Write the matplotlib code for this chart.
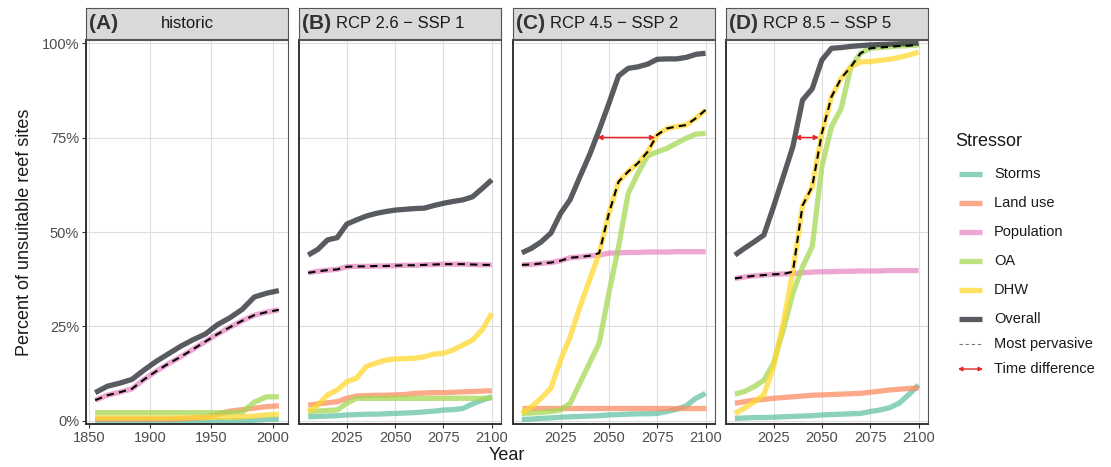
import numpy as np
import matplotlib
matplotlib.use("Agg")
import matplotlib.pyplot as plt
from matplotlib.lines import Line2D

plt.rcParams['font.family'] = ['Liberation Sans', 'DejaVu Sans']

# ---- data (percent of unsuitable reef sites) ----
years_hist = [1855, 1865, 1875, 1885, 1895, 1905, 1915, 1925, 1935, 1945, 1955, 1965, 1975, 1985, 1995, 2005]
years_fut = [2005, 2010, 2015, 2020, 2025, 2030, 2035, 2040, 2045, 2050,
             2055, 2060, 2065, 2070, 2075, 2080, 2085, 2090, 2095, 2100]

stressors = ["Storms", "Land use", "Population", "OA", "DHW", "Overall"]
colors = ["#66c2a5", "#fc8d62", "#e78ac3", "#a6d854", "#ffd92f", "#2e3338"]

hist_storms = [0, 0, 0, 0, 0, 0, 0, 0, 0, 0, 0, 0, 0.1, 0.2, 0.4, 0.5]
hist_land = [0.5, 0.5, 0.5, 0.5, 0.5, 0.5, 0.5, 0.6, 0.8, 1.0, 1.8, 2.6, 3.0, 3.4, 3.8, 4.0]
hist_pop = [5.5, 6.8, 7.6, 8.5, 11.0, 13.2, 15.2, 17.0, 19.0, 21.0, 23.0, 24.8, 26.5, 28.0, 28.8, 29.4]
hist_oa = [2.2, 2.2, 2.2, 2.2, 2.2, 2.2, 2.2, 2.2, 2.2, 2.2, 2.2, 2.2, 2.3, 5.0, 6.4, 6.4]
hist_dhw = [0.8, 0.8, 0.8, 0.8, 0.8, 0.8, 0.8, 0.8, 0.9, 0.9, 1.0, 1.0, 1.1, 1.3, 1.6, 1.8]
hist_overall = [7.5, 9.2, 10.0, 11.0, 13.5, 15.8, 17.8, 19.8, 21.5, 23.0, 25.5, 27.3, 29.5, 32.8, 33.8, 34.5]

rcp26_storms = [1.1, 1.2, 1.3, 1.4, 1.6, 1.7, 1.8, 1.8, 1.9, 2.0, 2.1, 2.2, 2.4, 2.6, 2.9, 3.0, 3.3, 4.5, 5.5, 6.4]
rcp26_land = [4.2, 4.5, 4.8, 5.1, 6.0, 6.6, 6.7, 6.8, 6.8, 6.9, 7.0, 7.3, 7.4, 7.5, 7.5, 7.6, 7.7, 7.8, 7.9, 8.0]
rcp26_pop = [39.2, 39.6, 39.9, 40.1, 40.8, 40.9, 40.9, 41.0, 41.0, 41.1, 41.2, 41.2, 41.3, 41.4, 41.5, 41.5, 41.5, 41.4, 41.3, 41.3]
rcp26_oa = [2.5, 2.6, 2.8, 2.9, 4.7, 6.0, 6.0, 6.0, 6.0, 6.0, 6.0, 6.0, 6.0, 6.0, 6.0, 6.0, 6.0, 6.0, 6.0, 6.1]
rcp26_dhw = [2.5, 4.2, 6.9, 8.2, 10.4, 11.3, 14.4, 15.3, 16.1, 16.4, 16.5, 16.6, 17.0, 17.7, 17.9, 18.8, 20.1, 21.4, 24.1, 28.5]
rcp26_overall = [43.9, 45.4, 47.9, 48.5, 52.1, 53.2, 54.2, 54.9, 55.4, 55.8, 56.0, 56.2, 56.3, 57.0, 57.6, 58.1, 58.5, 59.3, 61.5, 63.8]

rcp45_storms = [0.4, 0.5, 0.7, 0.8, 1.0, 1.1, 1.2, 1.3, 1.4, 1.6, 1.7, 1.8, 1.9, 1.9, 2.0, 2.5, 3.1, 4.0, 6.0, 7.3]
rcp45_land = [3.4] * 20
rcp45_pop = [41.3, 41.4, 41.7, 41.9, 42.4, 43.2, 43.4, 43.7, 43.9, 44.4, 44.5, 44.6, 44.6, 44.7, 44.7, 44.7, 44.8, 44.8, 44.8, 44.8]
rcp45_oa = [2.0, 2.1, 2.3, 2.5, 2.9, 4.7, 10.0, 15.3, 20.6, 33.8, 46.1, 60.2, 65.5, 70.1, 71.2, 72.1, 73.5, 74.8, 75.9, 76.1]
rcp45_dhw = [2.0, 3.8, 6.0, 8.7, 16.1, 22.3, 30.2, 37.3, 44.4, 54.9, 63.3, 66.0, 68.2, 71.2, 75.7, 77.4, 77.9, 78.3, 80.1, 82.3]
rcp45_overall = [44.5, 45.7, 47.4, 49.7, 54.9, 58.6, 64.6, 70.4, 77.0, 84.0, 91.3, 93.3, 93.7, 94.4, 95.7, 95.8, 95.8, 96.2, 97.0, 97.3]

rcp85_storms = [0.7, 0.8, 0.9, 0.9, 1.0, 1.1, 1.2, 1.3, 1.4, 1.6, 1.7, 1.8, 1.9, 2.0, 2.5, 2.9, 3.5, 4.7, 7.0, 9.5]
rcp85_land = [4.7, 5.1, 5.5, 5.7, 6.0, 6.2, 6.4, 6.6, 6.8, 6.9, 7.0, 7.1, 7.2, 7.3, 7.6, 7.9, 8.2, 8.4, 8.6, 8.7]
rcp85_pop = [37.7, 38.1, 38.4, 38.6, 38.8, 38.9, 39.0, 39.2, 39.4, 39.5, 39.5, 39.6, 39.6, 39.7, 39.7, 39.7, 39.8, 39.8, 39.8, 39.8]
rcp85_oa = [7.1, 7.8, 9.1, 10.8, 15.3, 24.1, 33.8, 40.8, 46.1, 67.3, 77.9, 82.7, 93.7, 97.3, 98.6, 98.8, 99.0, 99.2, 99.3, 99.5]
rcp85_dhw = [2.0, 3.4, 5.1, 6.9, 14.4, 25.8, 39.5, 57.0, 62.0, 76.1, 85.8, 90.7, 93.7, 95.0, 95.1, 95.4, 95.7, 96.2, 96.8, 97.6]
rcp85_overall = [43.9, 45.7, 47.4, 49.2, 56.7, 64.6, 72.6, 84.9, 87.9, 95.5, 98.6, 98.8, 99.1, 99.3, 99.5, 99.6, 99.7, 99.8, 99.9, 100.0]

# time difference arrows (start year, end year, level)
arrow_c = (2044, 2074, 75)
arrow_d = (2036, 2048.5, 75)

panels = [
    ("(A)", "historic", years_hist,
     [hist_storms, hist_land, hist_pop, hist_oa, hist_dhw, hist_overall], None),
    ("(B)", "RCP 2.6 \u2212 SSP 1", years_fut,
     [rcp26_storms, rcp26_land, rcp26_pop, rcp26_oa, rcp26_dhw, rcp26_overall], None),
    ("(C)", "RCP 4.5 \u2212 SSP 2", years_fut,
     [rcp45_storms, rcp45_land, rcp45_pop, rcp45_oa, rcp45_dhw, rcp45_overall], arrow_c),
    ("(D)", "RCP 8.5 \u2212 SSP 5", years_fut,
     [rcp85_storms, rcp85_land, rcp85_pop, rcp85_oa, rcp85_dhw, rcp85_overall], arrow_d),
]

W, H = 1111, 467
fig = plt.figure(figsize=(W / 100, H / 100), dpi=100)

lefts = [86, 299, 512.7, 725.7]
pw = 202
ptop, pbot = 40, 424
grey_txt = "#4d4d4d"
arrow_col = "#e8262b"

for i, (tag, title, yrs, series, arr) in enumerate(panels):
    ax = fig.add_axes([lefts[i] / W, (H - pbot) / H, pw / W, (pbot - ptop) / H])
    for name, col, vals in zip(stressors, colors, series):
        alpha = 0.8 if name == "Overall" else 0.75
        ax.plot(yrs, vals, color=col, lw=3.8, alpha=alpha, solid_capstyle='butt', zorder=2)
    # most pervasive = highest single stressor
    most = np.max(np.array(series[:5]), axis=0)
    ax.plot(yrs, most, color="black", lw=1.5, ls=(0, (3.5, 2.5)), zorder=3)
    if arr is not None:
        ax.annotate("", xy=(arr[1], arr[2]), xytext=(arr[0], arr[2]),
                    arrowprops=dict(arrowstyle="<|-|>", color=arrow_col, lw=1.1,
                                    mutation_scale=7, shrinkA=0, shrinkB=0), zorder=4)

    ax.set_ylim(-0.8, 100.8)
    if i == 0:
        ax.set_xlim(1847.5, 2012.5)
        ax.set_xticks([1850, 1900, 1950, 2000])
        ax.set_yticks([0, 25, 50, 75, 100])
        ax.set_yticklabels(["0%", "25%", "50%", "75%", "100%"])
    else:
        ax.set_xlim(2000.25, 2104.75)
        ax.set_xticks([2025, 2050, 2075, 2100])
        ax.set_yticks([0, 25, 50, 75, 100])
        ax.set_yticklabels([])
    ax.grid(True, color="#dedede", lw=0.8, zorder=0)
    ax.set_axisbelow(True)
    ax.tick_params(axis='both', labelsize=10.5, colors="#333333", labelcolor=grey_txt,
                   length=3, width=0.8, pad=2)
    if i != 0:
        ax.tick_params(axis='y', length=0)
    for s in ["left", "bottom"]:
        ax.spines[s].set_color("#333333")
        ax.spines[s].set_linewidth(1.4)
    for s in ["right", "top"]:
        ax.spines[s].set_color("#555555")
        ax.spines[s].set_linewidth(0.8)

    # facet strip
    sx = fig.add_axes([lefts[i] / W, (H - 39) / H, pw / W, 31 / H])
    sx.set_facecolor("#d9d9d9")
    sx.set_xticks([])
    sx.set_yticks([])
    for s in sx.spines.values():
        s.set_color("#555555")
        s.set_linewidth(0.8)
    sx.text(0.015, 0.5, tag, transform=sx.transAxes, ha="left", va="center",
            fontsize=15, fontweight="bold", color="#333333")
    sx.text(0.5, 0.5, title, transform=sx.transAxes, ha="center", va="center",
            fontsize=12, color="#1a1a1a")

fig.text(25 / W, 1 - 232 / H, "Percent of unsuitable reef sites", rotation=90,
         ha="center", va="center", fontsize=13, color="#1a1a1a")
fig.text(507 / W, 1 - 456 / H, "Year", ha="center", va="center", fontsize=13, color="#1a1a1a")

# legend drawn on an overlay axes in pixel coordinates
lg = fig.add_axes([0, 0, 1, 1])
lg.set_xlim(0, W)
lg.set_ylim(H, 0)
lg.axis("off")
lg.text(955, 142, "Stressor", fontsize=13, ha="left", va="center", color="#1a1a1a")
rows = [174, 203, 232, 261, 290, 319]
for name, col, yy in zip(stressors, colors, rows):
    alpha = 0.8 if name == "Overall" else 0.75
    lg.add_line(Line2D([959, 982], [yy, yy], color=col, lw=3.8, alpha=alpha, solid_capstyle='butt'))
    lg.text(994, yy, name, fontsize=10.5, ha="left", va="center", color="#1a1a1a")
lg.add_line(Line2D([959, 982], [344, 344], color="#777777", lw=0.8, ls=(0, (3, 2.5))))
lg.text(994, 344, "Most pervasive", fontsize=10.5, ha="left", va="center", color="#1a1a1a")
lg.annotate("", xy=(983, 369), xytext=(958, 369),
            arrowprops=dict(arrowstyle="<|-|>", color=arrow_col, lw=1.0,
                            mutation_scale=6, shrinkA=0, shrinkB=0))
lg.text(994, 369, "Time difference", fontsize=10.5, ha="left", va="center", color="#1a1a1a")

fig.savefig("out.png", dpi=100)
